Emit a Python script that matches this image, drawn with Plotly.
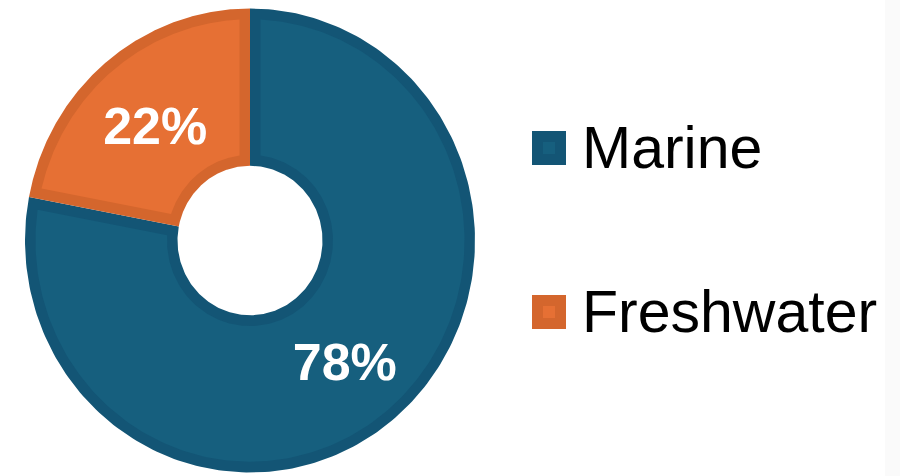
import numpy as np
import plotly.graph_objects as go

# Share of habitat type
labels = ["Marine", "Freshwater"]
values = [78, 22]
fill_colors = ["#165f7e", "#e67034"]
edge_colors = ["#135575", "#d4662d"]

W, H = 900, 476
R_OUT = 225      # outer radius (axis units)
R_IN = 72.5      # hole radius
EDGE = 10.5      # inset border width
CX, CY = 250, 240.5      # ring centre in px from top-left
SY = 232 / 225           # vertical px per axis unit (ring is slightly tall)


def ring_sector(a0, a1, r_out, r_in, inset=0.0, n=240):
    """Closed outline of an annular sector (clockwise degrees from 12 o'clock),
    optionally shrunk by a constant perpendicular inset on every side."""
    ro, ri = r_out - inset, r_in + inset
    do = np.degrees(np.arcsin(inset / ro)) if inset else 0.0
    di = np.degrees(np.arcsin(inset / ri)) if inset else 0.0
    outer = np.linspace(a0 + do, a1 - do, n)
    inner = np.linspace(a1 - di, a0 + di, n)
    theta = np.radians(np.concatenate([outer, inner, outer[:1]]))
    r = np.concatenate([np.full(n, ro), np.full(n, ri), [ro]])
    return r * np.sin(theta), r * np.cos(theta)


total = sum(values)
bounds = np.concatenate([[0], np.cumsum(values)]) / total * 360

fig = go.Figure()
for i, (lab, v) in enumerate(zip(labels, values)):
    a0, a1 = bounds[i], bounds[i + 1]
    x, y = ring_sector(a0, a1, R_OUT, R_IN)
    fig.add_trace(go.Scatter(
        x=x, y=y, mode="lines", fill="toself",
        fillcolor=edge_colors[i], line=dict(width=0, color=edge_colors[i]),
        name=lab, showlegend=False, hoverinfo="skip",
    ))
    x2, y2 = ring_sector(a0, a1, R_OUT, R_IN, inset=EDGE)
    fig.add_trace(go.Scatter(
        x=x2, y=y2, mode="lines", fill="toself",
        fillcolor=fill_colors[i], line=dict(width=0, color=fill_colors[i]),
        name=lab, showlegend=False, hoveron="fills",
        text=f"{lab}: {v / total:.0%}", hoverinfo="text",
    ))

# Percentage labels at the middle of each slice
mid = np.radians((bounds[:-1] + bounds[1:]) / 2)
r_lab = (R_OUT + R_IN) / 2
fig.add_trace(go.Scatter(
    x=r_lab * np.sin(mid), y=r_lab * np.cos(mid) - 8,
    mode="text",
    text=[f"{v / total:.0%}" for v in values],
    textposition="middle center",
    textfont=dict(family="Liberation Sans", size=52, color="white", weight="bold"),
    showlegend=False, hoverinfo="skip",
))

# Legend drawn at a larger scale than the built-in one allows
legend_rows_y = [148, 312]
shapes = [
    dict(type="rect", xref="paper", yref="paper",
         x0=885 / W, x1=1, y0=0, y1=1,
         fillcolor="#fafafa", line=dict(width=0), layer="below"),
]
annotations = []
for lab, fc, ec, yc in zip(labels, fill_colors, edge_colors, legend_rows_y):
    half = 11.5
    shapes.append(dict(
        type="rect", xref="paper", yref="paper",
        x0=(549 - half) / W, x1=(549 + half) / W,
        y0=(H - yc - half) / H, y1=(H - yc + half) / H,
        fillcolor=fc, line=dict(color=ec, width=11),
    ))
    annotations.append(dict(
        text=lab, xref="paper", yref="paper",
        x=580 / W, y=(H - yc) / H, xanchor="left", yanchor="middle",
        showarrow=False,
        font=dict(family="Liberation Sans", size=59, color="black"),
    ))

hidden = dict(visible=False, showgrid=False, zeroline=False, fixedrange=True)
fig.update_layout(
    width=W, height=H,
    margin=dict(l=0, r=0, t=0, b=0),
    paper_bgcolor="white",
    plot_bgcolor="rgba(0,0,0,0)",
    xaxis=dict(range=[-CX, W - CX], domain=[0, 1], **hidden),
    yaxis=dict(range=[-(H - CY) / SY, CY / SY], domain=[0, 1], **hidden),
    shapes=shapes,
    annotations=annotations,
)

fig.write_html("out.html")
